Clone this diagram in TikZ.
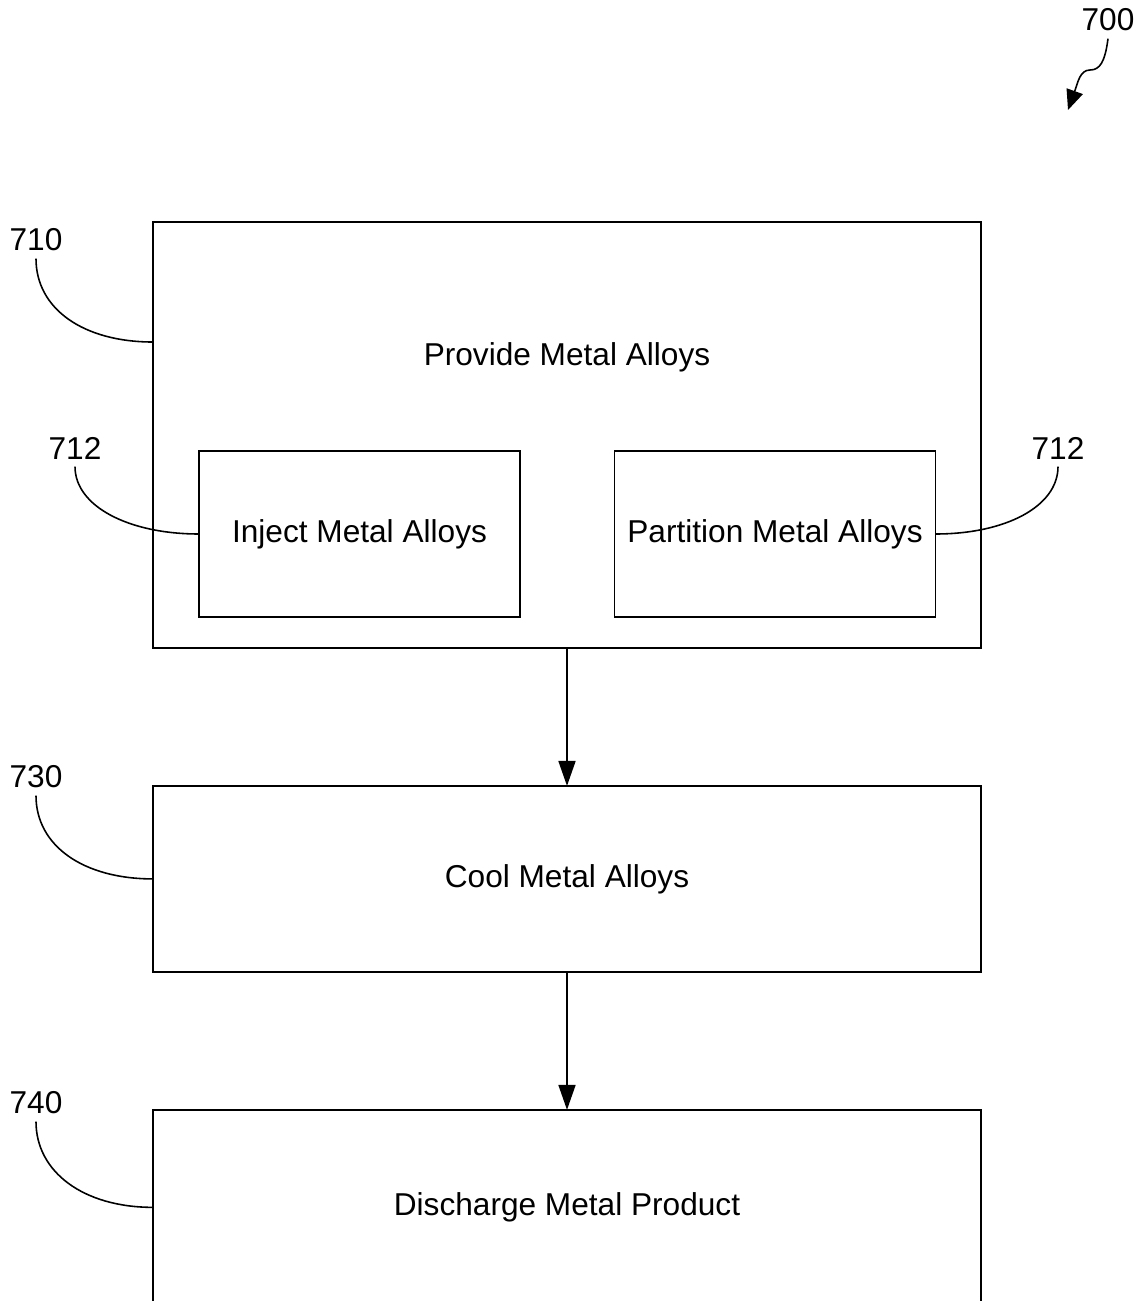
\documentclass[tikz,border=0pt]{standalone}
\usepackage{fontspec}
\setmainfont{Liberation Sans}
\usepackage{tikz}
\usetikzlibrary{arrows.meta,positioning}
\tikzset{
  stepbox/.style={draw=black, line width=1pt, minimum width=16.56cm, align=center, inner sep=0pt, outer sep=0pt},
  innerbox/.style={draw=black, line width=1pt, minimum width=6.42cm, minimum height=3.32cm, inner sep=0pt, outer sep=0pt},
  refnum/.style={inner sep=0.15cm, outer sep=0pt},
  leader/.style={draw=black, line width=0.9pt},
  flow/.style={-{Triangle[length=0.5cm, width=0.34cm]}, line width=1pt, draw=black},
  squig/.style={-{Triangle[length=0.4cm, width=0.34cm]}, line width=0.9pt, draw=black}
}

\begin{document}
\begin{tikzpicture}[x=0.02cm, y=-0.02cm, node distance=2.76cm, font=\fontsize{18}{22}\selectfont]
        \useasboundingbox (0,0) rectangle (1144,1301);
        \clip (0,0) rectangle (1144,1301);
        % boxes
        \node[stepbox, minimum height=8.52cm] (prov) at (567,435) {};
        \node[refnum, inner sep=0pt] (provtxt) at (567,357) {Provide Metal Alloys};
        \node[innerbox] (inj) at (359.5,534) {Inject Metal Alloys};
        \node[innerbox] (part) at (775,534) {Partition Metal Alloys};
        \node[stepbox, minimum height=3.72cm, below=of prov] (cool) {Cool Metal Alloys};
        \node[stepbox, minimum height=3.9cm, below=of cool] (disc) {Discharge Metal Product};
        \draw[flow] (prov) -- (cool);
        \draw[flow] (cool) -- (disc);
        % reference numerals
        \node[refnum] (n700) at (1108,20) {700};
        \node[refnum] (n710) at (36,240) {710};
        \node[refnum] (n712a) at (75,448) {712};
        \node[refnum] (n712b) at (1058,448) {712};
        \node[refnum] (n730) at (36,777) {730};
        \node[refnum] (n740) at (36,1103) {740};
        \coordinate (tip700) at (1068,110);
        \draw[leader] (n710.south) .. controls +(0,50) and +(-70,0) .. ([yshift=-2.4cm]prov.north west);
        \draw[leader] (n712a.south) .. controls +(0,40) and +(-70,0) .. (inj.west);
        \draw[leader] (n712b.south) .. controls +(0,40) and +(70,0) .. (part.east);
        \draw[leader] (n730.south) .. controls +(0,50) and +(-70,0) .. (cool.west);
        \draw[leader] (n740.south) .. controls +(0,50) and +(-70,0) .. (disc.west);
        \draw[squig] (n700.south) .. controls +(-3,23) and +(10,0) .. (1090,70) .. controls +(-10,0) and +(10,-28) .. (tip700);
      \end{tikzpicture}
\end{document}
